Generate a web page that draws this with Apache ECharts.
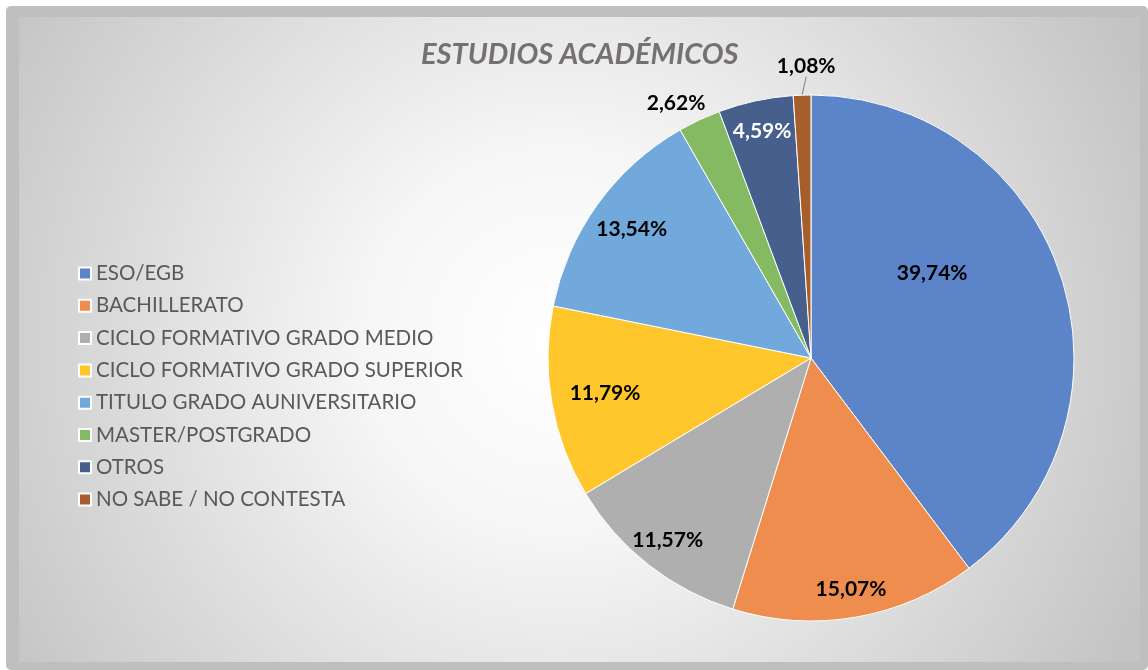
<!DOCTYPE html>
<html>
<head>
<meta charset="utf-8">
<script src="https://cdn.jsdelivr.net/npm/echarts@6/dist/echarts.min.js"></script>
<style>
html,body{margin:0;padding:0;background:#fff;}
#c{width:1148px;height:670px;}
</style>
</head>
<body>
<div id="c"></div>
<script>
const titleText = 'ESTUDIOS ACADÉMICOS';
const categories = ['ESO/EGB', 'BACHILLERATO', 'CICLO FORMATIVO GRADO MEDIO', 'CICLO FORMATIVO GRADO SUPERIOR', 'TITULO GRADO AUNIVERSITARIO', 'MASTER/POSTGRADO', 'OTROS', 'NO SABE / NO CONTESTA'];
const values = [39.74, 15.07, 11.57, 11.79, 13.54, 2.62, 4.59, 1.08];

// styling / layout (not data)
const colors = ['#5B84C9', '#EF8D4F', '#AFAFAF', '#FFC72C', '#72A9DC', '#84BA61', '#465F8D', '#A85E2C'];
const labelColors = ['#000', '#000', '#000', '#000', '#000', '#000', '#fff', '#000'];
const CX = 811, CY = 358, R = 263;
const labelRadius = [148, 235, 232, 209, 221, 288, 232, 292];
const labelAngleShift = [-16.6, 0, 0, 0, 0, -2.8, 0, 1];
const FONT = 'Lato, "Open Sans", sans-serif';

const total = values.reduce((a, b) => a + b, 0);
const cum = [];
values.reduce((acc, v, i) => { cum[i] = acc; return acc + v; }, 0);

const fmt = v => v.toFixed(2).replace('.', ',') + '%';

const data = categories.map((name, i) => {
  const item = { name, value: values[i], itemStyle: { color: colors[i] }, label: { color: labelColors[i] } };
  if (i === 5) { item.label.position = 'outside'; item.labelLine = { show: false }; }
  if (i === 7) { item.label.position = 'outside'; item.labelLine = { show: true, length: 10, length2: 0, lineStyle: { color: '#7f7f7f', width: 1 } }; }
  return item;
});

const chart = echarts.init(document.getElementById('c'), null, { renderer: 'canvas' });
chart.setOption({
  animation: false,
  graphic: [
    { type: 'rect', z: -10, silent: true, shape: { x: 6, y: 6, width: 1142, height: 664, r: 5 }, style: { fill: '#bfbfbf' } },
    { type: 'rect', z: -9, silent: true, shape: { x: 19, y: 17, width: 1121, height: 645 },
      style: { fill: new echarts.graphic.RadialGradient(0.48, 0.5, 1.0, [
        { offset: 0, color: '#ffffff' },
        { offset: 0.3, color: '#f6f6f6' },
        { offset: 1, color: '#c4c4c4' }
      ]) } }
  ],
  title: {
    text: titleText,
    left: 416, top: 35,
    textStyle: { fontFamily: FONT, fontSize: 29, fontWeight: 'bold', fontStyle: 'italic', color: '#757171' }
  },
  legend: {
    orient: 'vertical',
    left: 73, top: 258,
    itemWidth: 12, itemGap: 11.3, itemHeight: 12,
    icon: 'rect',
    data: categories,
    textStyle: { fontFamily: FONT, fontSize: 20.5, color: '#595959', lineHeight: 20 }
  },
  series: [{
    type: 'pie',
    center: [CX, CY],
    radius: R,
    startAngle: 90,
    clockwise: true,
    avoidLabelOverlap: false,
    itemStyle: { borderColor: '#ffffff', borderWidth: 1 },
    label: {
      show: true,
      position: 'inside',
      fontFamily: FONT, fontSize: 21, fontWeight: 'bold',
      formatter: p => fmt(p.value)
    },
    labelLine: { show: false },
    labelLayout: function (p) {
      const i = p.dataIndex;
      const th = (2 * Math.PI * (cum[i] + values[i] / 2) / total) + labelAngleShift[i] * Math.PI / 180;
      return {
        x: CX + labelRadius[i] * Math.sin(th),
        y: CY - labelRadius[i] * Math.cos(th),
        align: 'center',
        verticalAlign: 'middle'
      };
    },
    data: data
  }]
});
</script>
</body>
</html>
